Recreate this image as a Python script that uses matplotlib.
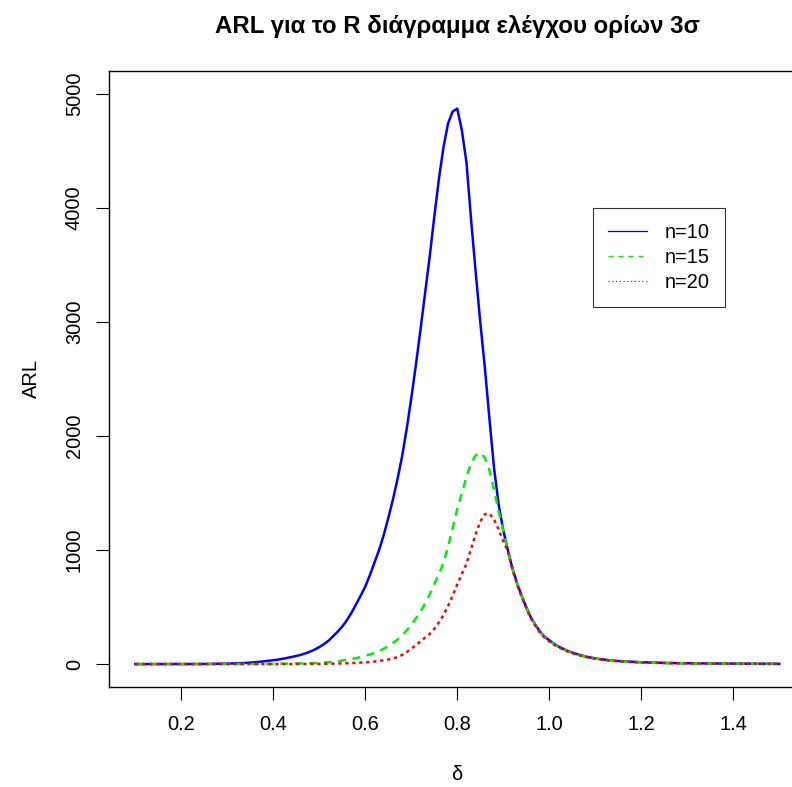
#!/usr/bin/env python3

import numpy as np
import matplotlib
matplotlib.use("Agg")
import matplotlib.pyplot as plt
from matplotlib.lines import Line2D

plt.rcParams['font.family'] = ['Liberation Sans', 'DejaVu Sans']

# delta grid, step 0.01 from 0.10 to 1.50
delta = np.round(np.arange(10, 151) / 100.0, 2)

# n = 10
arl_10 = [
    1, 1, 1, 1, 1, 1, 1, 1, 1, 1,            # 0.10-0.19
    1, 1, 1, 1, 1.5, 2, 2, 2.5, 3, 4,        # 0.20-0.29
    5, 6, 7, 9, 11, 14, 17, 21, 25, 30,      # 0.30-0.39
    35, 40, 47, 55, 63, 72, 82, 95, 110, 128,  # 0.40-0.49
    150, 175, 205, 245, 285, 330, 385, 450, 525, 600,  # 0.50-0.59
    680, 780, 890, 1000, 1130, 1280, 1440, 1620, 1820, 2060,  # 0.60-0.69
    2330, 2620, 2930, 3250, 3570, 3920, 4250, 4530, 4740, 4845,  # 0.70-0.79
    4870, 4680, 4400, 3900, 3440, 3000, 2600, 2150, 1720, 1400,  # 0.80-0.89
    1175, 1000, 840, 710, 600, 500, 410, 345, 285, 240,  # 0.90-0.99
    210, 180, 155, 135, 117, 102, 89, 78, 66, 58,  # 1.00-1.09
    51, 45, 40, 35, 31, 28, 25, 23, 21, 19,  # 1.10-1.19
    17, 16, 14, 13, 12, 11, 10, 9.5, 9, 8.5,  # 1.20-1.29
    8, 7.5, 7, 6.6, 6.3, 6, 5.7, 5.4, 5.1, 4.9,  # 1.30-1.39
    4.7, 4.5, 4.3, 4.1, 3.9, 3.8, 3.6, 3.5, 3.4, 3.3,  # 1.40-1.49
    3.2,                                     # 1.50
]

# n = 15
arl_15 = [
    1, 1, 1, 1, 1, 1, 1, 1, 1, 1,
    1, 1, 1, 1, 1, 1, 1, 1, 1, 1,
    1, 1, 1, 1.5, 1.5, 1.5, 2, 2, 2, 2.5,
    3, 3, 4, 4, 5, 6, 7, 8, 9, 10,
    12, 14, 17, 21, 26, 32, 38, 45, 53, 62,
    73, 85, 98, 115, 135, 158, 185, 215, 250, 295,
    345, 400, 460, 530, 610, 700, 790, 885, 1030, 1190,
    1360, 1500, 1640, 1760, 1830, 1855, 1810, 1700, 1530, 1340,
    1170, 995, 835, 705, 595, 495, 405, 340, 280, 236,
    205, 176, 152, 132, 114, 99, 86, 75, 64, 56,
    49, 43, 38, 34, 30, 27, 24, 22, 20, 18,
    16, 15, 13, 12, 11, 10, 9.5, 9, 8.5, 8,
    7.5, 7, 6.6, 6.2, 5.9, 5.6, 5.3, 5, 4.8, 4.6,
    4.4, 4.2, 4, 3.8, 3.7, 3.5, 3.4, 3.3, 3.2, 3.1,
    3,
]

# n = 20
arl_20 = [
    1, 1, 1, 1, 1, 1, 1, 1, 1, 1,
    1, 1, 1, 1, 1, 1, 1, 1, 1, 1,
    1, 1, 1, 1, 1, 1, 1, 1, 1, 1,
    1, 1, 1.5, 1.5, 1.5, 1.5, 2, 2, 2, 2,
    3, 3, 4, 5, 6, 7, 8, 10, 12, 14,
    16, 19, 23, 28, 34, 41, 50, 62, 80, 105,
    135, 165, 200, 232, 265, 310, 365, 430, 510, 600,
    700, 790, 880, 1010, 1140, 1250, 1315, 1320, 1270, 1180,
    1080, 990, 830, 700, 590, 490, 400, 335, 276, 232,
    200, 172, 149, 129, 111, 97, 84, 73, 63, 55,
    48, 42, 37, 33, 29, 26, 23, 21, 19, 17,
    15.5, 14, 13, 12, 11, 10, 9, 8.5, 8, 7.5,
    7, 6.6, 6.2, 5.9, 5.6, 5.3, 5, 4.8, 4.6, 4.4,
    4.2, 4, 3.8, 3.7, 3.5, 3.4, 3.3, 3.2, 3.1, 3,
    2.9,
]

labels = ["n=10", "n=15", "n=20"]
colors = ["#0000ff", "#00ee00", "#ff0000"]
x_ticks = [0.2, 0.4, 0.6, 0.8, 1.0, 1.2, 1.4]
y_ticks = [0, 1000, 2000, 3000, 4000, 5000]

fig = plt.figure(figsize=(7.92, 7.87), dpi=100)
ax = fig.add_axes([109.5 / 792, 100 / 787, 695.5 / 792, 616 / 787])

lw = 1.8
ax.plot(delta, arl_10, color=colors[0], lw=lw, solid_joinstyle='round')
ax.plot(delta, arl_15, color=colors[1], lw=lw, dashes=(3.2, 2.6))
ax.plot(delta, arl_20, color=colors[2], lw=lw, dashes=(1.3, 1.5))

ax.set_xlim(0.044, 1.556)
ax.set_ylim(-200, 5200)
ax.set_xticks(x_ticks)
ax.set_xticklabels([f"{t:.1f}" for t in x_ticks])
ax.set_yticks(y_ticks)
ax.set_yticklabels([str(t) for t in y_ticks], rotation=90, va='center')
ax.tick_params(axis='both', length=9.4, width=0.8, labelsize=14.4,
               direction='out')
ax.tick_params(axis='x', pad=11)
ax.tick_params(axis='y', pad=9)
ax.spines['right'].set_visible(False)
for s in ax.spines.values():
    s.set_linewidth(1.0)

ax.set_title("ARL για το R διάγραμμα ελέγχου ορίων 3σ",
             fontsize=17.3, fontweight='bold', pad=27)
ax.set_xlabel("δ", fontsize=14.4, labelpad=22)
ax.set_ylabel("ARL", fontsize=14.4, labelpad=17)

handles = [
    Line2D([], [], color=colors[0], lw=0.9),
    Line2D([], [], color=colors[1], lw=0.9, dashes=(4, 4)),
    Line2D([], [], color=colors[2], lw=0.9, dashes=(1, 2)),
]
leg = fig.legend(handles, labels, loc='upper left',
                 bbox_to_anchor=(593 / 792, 1 - 208 / 787),
                 fontsize=14.4, frameon=True, fancybox=False,
                 edgecolor='black', handlelength=1.95, handletextpad=0.9,
                 borderpad=0.75, labelspacing=0.3, borderaxespad=0)
leg.get_frame().set_linewidth(0.8)

fig.savefig("out.png", dpi=100)
